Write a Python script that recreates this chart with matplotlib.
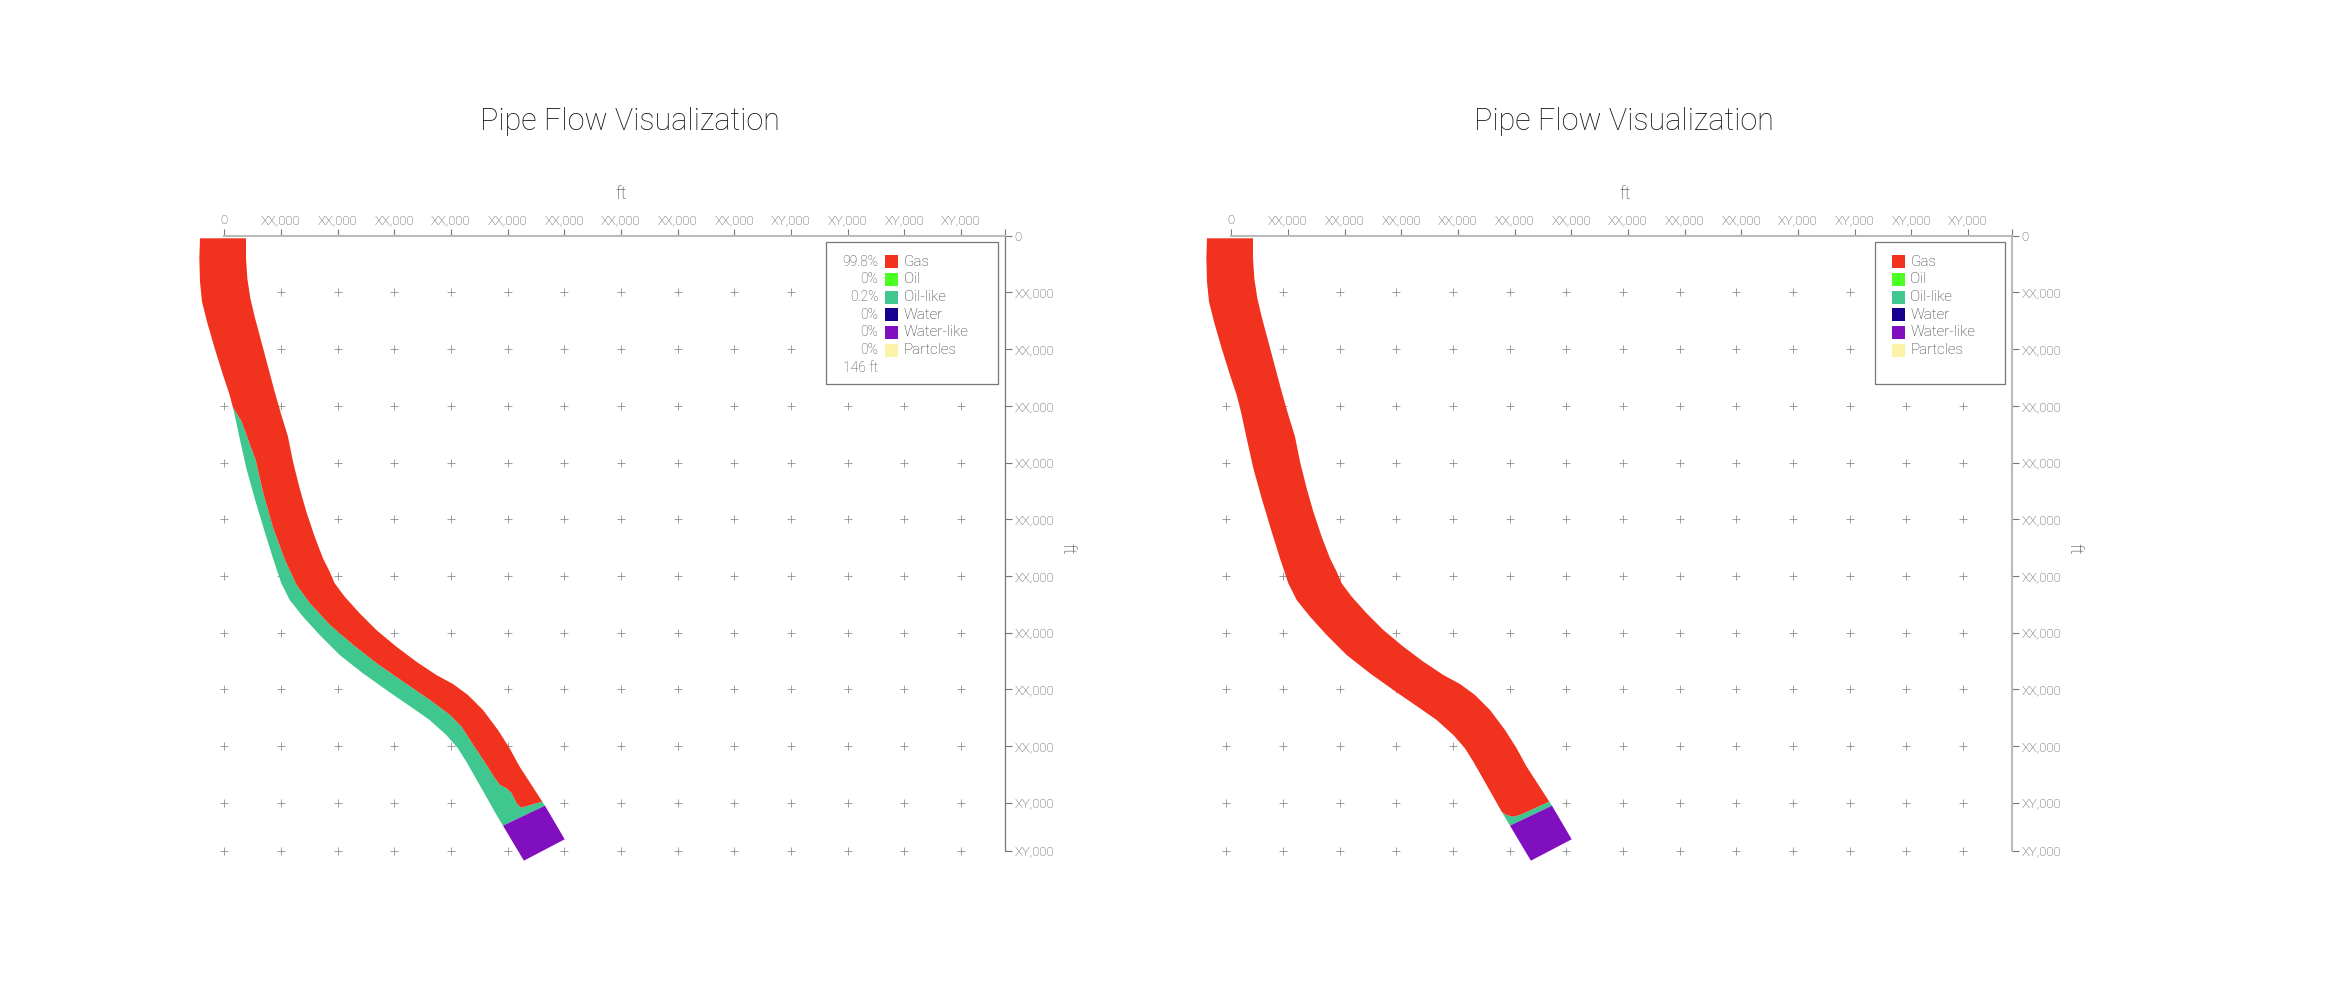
import matplotlib
matplotlib.use('Agg')
import matplotlib.pyplot as plt
from matplotlib.patches import Rectangle

plt.rcParams['font.family'] = ['Roboto', 'DejaVu Sans']
plt.rcParams['font.weight'] = 'light'

# tick labels are masked in the source chart
x_ticks = [0, 10000, 20000, 30000, 40000, 50000, 60000, 70000, 80000, 90000, 100000, 110000, 120000, 130000, 137850]
x_labels = ['0', 'XX,000', 'XX,000', 'XX,000', 'XX,000', 'XX,000', 'XX,000', 'XX,000', 'XX,000', 'XX,000',
            'XY,000', 'XY,000', 'XY,000', 'XY,000', '']
y_ticks = [0, 10000, 20000, 30000, 40000, 50000, 60000, 70000, 80000, 90000, 100000, 108470]
y_labels = ['0', 'XX,000', 'XX,000', 'XX,000', 'XX,000', 'XX,000', 'XX,000', 'XX,000', 'XX,000', 'XX,000',
            'XY,000', 'XY,000']
grid_x = [0, 10000, 20000, 30000, 40000, 50000, 60000, 70000, 80000, 90000, 100000, 110000, 120000, 130000]
grid_y = [10000, 20000, 30000, 40000, 50000, 60000, 70000, 80000, 90000, 100000, 108470]

phases = ['Gas', 'Oil', 'Oil-like', 'Water', 'Water-like', 'Partcles']
phase_colors = ['#F0321F', '#4CFF22', '#3FC78F', '#170090', '#7F0FBF', '#FBF3A8']
phase_pct = ['99.8%', '0%', '0.2%', '0%', '0%', '0%']

# pipe walls, ft
right_x = [3830, 3830, 4065, 4595, 5360, 6536, 7713, 8889, 10066, 11243, 12125, 13302, 14478, 15949, 17420, 18597,
           19480, 21244, 23892, 26833, 30363, 33893, 37423, 40364, 43012, 45659, 48306, 50365, 52130, 56130]
right_y = [440, 3975, 7503, 11031, 14265, 18675, 23085, 27495, 31611, 35433, 39843, 44547, 48663, 53073, 56895, 59247,
           61305, 63657, 66597, 69537, 72477, 75123, 77475, 79063, 81003, 83649, 87177, 90411, 93645, 99819]
left_x = [-4289, -4406, -4289, -3936, -3053, -1700, -229, 947, 1480, 1830, 2712, 3889, 5360, 7124, 8595, 10067,
          11538, 13891, 16832, 20362, 24480, 29187, 33305, 36246, 39188, 41247, 42717, 45071, 47718, 49189]
left_y = [440, 3975, 8091, 11619, 15147, 19851, 24555, 28083, 30150, 31611, 35727, 41019, 46311, 52191, 56895, 61305,
          64245, 67185, 70419, 73947, 77181, 80533, 83355, 85413, 88059, 90411, 92763, 96879, 101583, 104053]

# gas / oil-like interface, first chart
iface_x = [1480, 3070, 4240, 4890, 5540, 6880, 8650, 10710, 12780, 15130, 18660, 22770, 26900, 31590, 36310, 39840,
           41900, 43950, 46310, 47780, 48660, 49840, 50730, 51610, 52370, 56130]
iface_y = [30150, 32790, 36020, 37790, 39550, 45420, 51600, 57190, 61600, 64830, 68650, 72180, 75410, 78660, 81880, 84530,
           86600, 89820, 93350, 95700, 96880, 97460, 98340, 100110, 100880, 99819]

# gas / oil-like interface, second chart
iface2_x = [47718, 48600, 49770, 50950, 56130]
iface2_y = [101583, 102200, 102470, 102170, 99819]

# top of the water-like section, then its far end
tip_x = [49189, 56600, 60080, 52880]
tip_y = [104053, 100530, 106460, 110230]


def px(x, y):
    return x / 2336, 1 - y / 1000


def draw_chart(ax, gas_x, gas_y, oil_x, oil_y, grid_shift, axis_color, axis_width, title_x, label_x):
    ax.set_xlim(0, 137850)
    ax.set_ylim(108470, 0)
    ax.scatter([x + grid_shift for x in grid_x for y in grid_y], [y for x in grid_x for y in grid_y],
               marker='+', s=26, linewidths=0.6, color='#8f8f8f', clip_on=False, zorder=1)
    ax.fill(oil_x, oil_y, color=phase_colors[2], lw=0, clip_on=False, zorder=2)
    ax.fill(gas_x, gas_y, color=phase_colors[0], lw=0, clip_on=False, zorder=3)
    ax.fill(tip_x, tip_y, color=phase_colors[4], lw=0, clip_on=False, zorder=4)

    for side in ['left', 'bottom']:
        ax.spines[side].set_visible(False)
    ax.spines['top'].set_color('#bbbbbb')
    ax.spines['top'].set_linewidth(1.5)
    ax.spines['right'].set_color(axis_color)
    ax.spines['right'].set_linewidth(axis_width)

    ax.xaxis.tick_top()
    ax.yaxis.tick_right()
    ax.set_xticks(x_ticks, x_labels)
    ax.set_yticks(y_ticks, y_labels)
    ax.tick_params(axis='both', length=5, width=0.8, color='#777777', labelcolor='#444444', labelsize=9.5)
    ax.tick_params(axis='x', pad=1)
    ax.tick_params(axis='y', pad=1.5)
    for label in ax.get_yticklabels():
        label.set_verticalalignment('center_baseline')
    ax.set_title('Pipe Flow Visualization', fontsize=22, fontweight='light', color='#111111',
                 x=title_x, y=1.1866, va='center', pad=0)
    ax.set_xlabel('ft', fontsize=13, fontweight='light', color='#333333', va='center')
    ax.xaxis.set_label_position('top')
    ax.xaxis.set_label_coords(label_x, 1.060)
    ax.set_ylabel('ft', fontsize=13, fontweight='light', color='#333333', rotation=-90, va='center', ha='center')
    ax.yaxis.set_label_position('right')
    ax.yaxis.set_label_coords(1.091, 0.491)


plt.figure(1, figsize=(23.36, 10), dpi=100)
fig = plt.gcf()

# first chart: gas sits on an oil-like layer
ax1 = fig.add_axes([224.3 / 2336, 1 - 850.7 / 1000, 781 / 2336, 614.9 / 1000])
gas1_x = right_x + iface_x[::-1] + left_x[:9][::-1]
gas1_y = right_y + iface_y[::-1] + left_y[:9][::-1]
oil1_x = left_x[8:] + [tip_x[1]] + iface_x[::-1]
oil1_y = left_y[8:] + [tip_y[1]] + iface_y[::-1]
draw_chart(ax1, gas1_x, gas1_y, oil1_x, oil1_y, 0, '#777777', 0.9, 0.520, 0.508)

# second chart: oil-like only at the end of the pipe
ax2 = fig.add_axes([1231.3 / 2336, 1 - 850.7 / 1000, 781 / 2336, 614.9 / 1000])
gas2_x = right_x + iface2_x[::-1] + left_x[:-2][::-1]
gas2_y = right_y + iface2_y[::-1] + left_y[:-2][::-1]
oil2_x = iface2_x + [tip_x[1], tip_x[0]]
oil2_y = iface2_y + [tip_y[1], tip_y[0]]
draw_chart(ax2, gas2_x, gas2_y, oil2_x, oil2_y, -880, '#bbbbbb', 1.5, 0.503, 0.504)

# legend boxes
for x0, x1, swatch_x, show_pct in [(826.3, 997.7, 885, True), (1875.3, 2004.7, 1891.7, False)]:
    fig.add_artist(Rectangle(px(x0, 384.3), (x1 - x0) / 2336, 142 / 1000, transform=fig.transFigure,
                             facecolor='white', edgecolor='#777777', lw=0.9, zorder=5))
    for i, name in enumerate(phases):
        yc = 261.7 + i * 17.7
        fig.add_artist(Rectangle(px(swatch_x, yc + 6.5), 13 / 2336, 13 / 1000, transform=fig.transFigure,
                                 facecolor=phase_colors[i], edgecolor='none', zorder=6))
        fx, fy = px(swatch_x + 18.7, yc)
        fig.text(fx, fy, name, fontsize=11, color='#333333', va='center', ha='left', zorder=6)
        if show_pct:
            fx, fy = px(878.3, yc)
            fig.text(fx, fy, phase_pct[i], fontsize=10, color='#444444', va='center', ha='right', zorder=6)
    if show_pct:
        fx, fy = px(878.3, 367.7)
        fig.text(fx, fy, '146 ft', fontsize=10, color='#444444', va='center', ha='right', zorder=6)

plt.savefig('out.png', dpi=100)
